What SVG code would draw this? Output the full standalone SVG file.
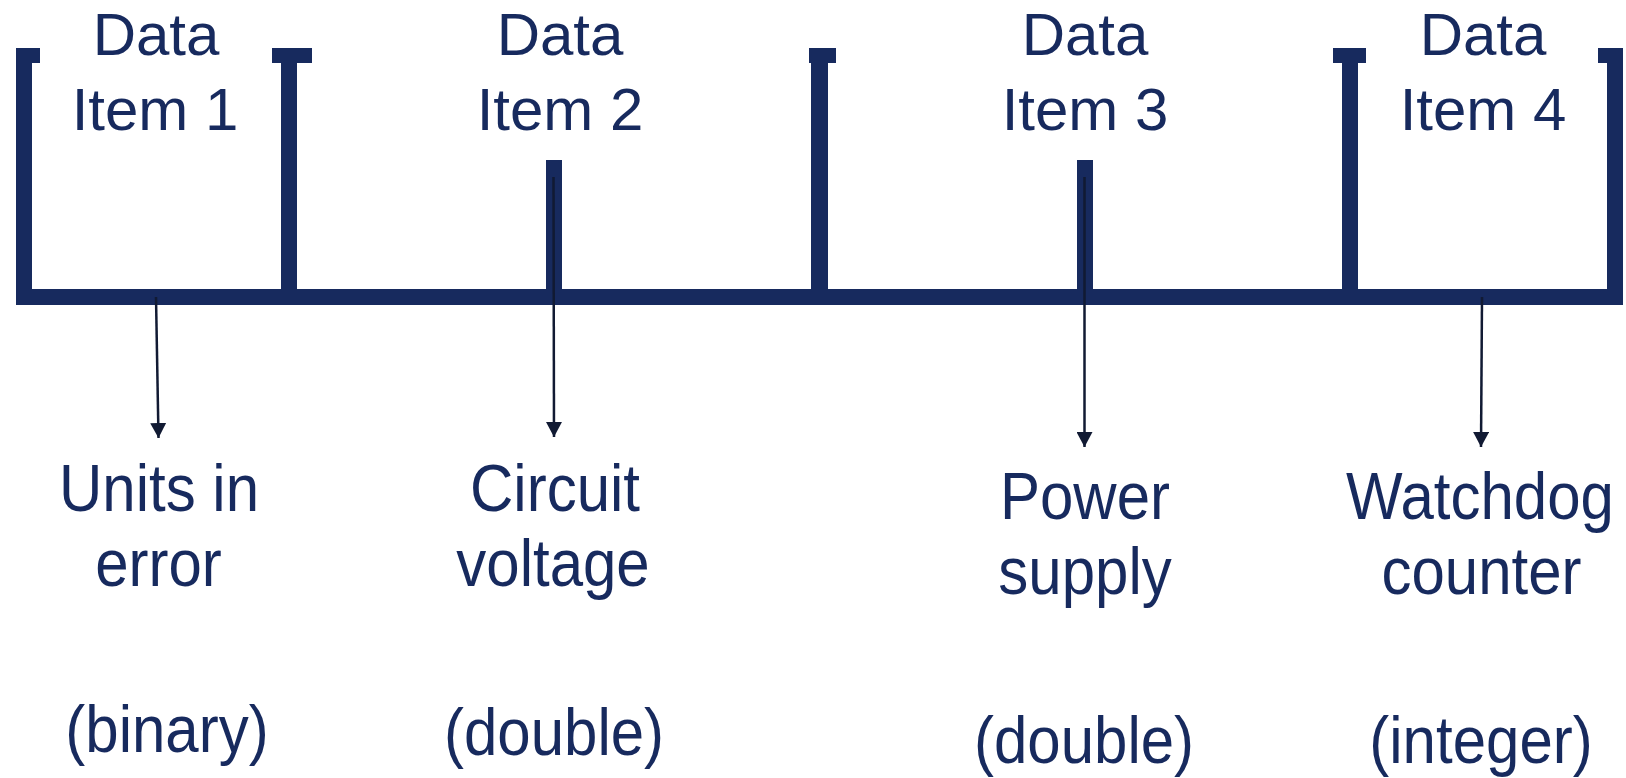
<svg xmlns="http://www.w3.org/2000/svg" width="1626" height="778" viewBox="0 0 1626 778">
<style>
.bar{fill:#172a5e}
.t{font-family:"Liberation Sans",Arial,sans-serif;font-size:60px;fill:#172a5e;text-anchor:middle}
.arr{stroke:#111a33;stroke-width:2.5;fill:none;marker-end:url(#ah)}
</style>
<defs>
<marker id="ah" markerUnits="userSpaceOnUse" markerWidth="16" markerHeight="16" refX="15" refY="8" orient="auto" viewBox="0 0 16 16">
<path d="M0,0 L15,8 L0,16 z" fill="#111a33"/>
</marker>
</defs>
<rect width="1626" height="778" fill="#ffffff"/>
<g id="frame">
<rect class="bar" x="16" y="289" width="1607" height="16"/>
<rect class="bar" x="16" y="48" width="16" height="257"/>
<rect class="bar" x="16" y="48" width="24" height="15"/>
<rect class="bar" x="281" y="48" width="16" height="257"/>
<rect class="bar" x="272" y="48" width="40" height="15"/>
<rect class="bar" x="811" y="48" width="17" height="257"/>
<rect class="bar" x="809" y="48" width="27" height="15"/>
<rect class="bar" x="1342" y="48" width="16" height="257"/>
<rect class="bar" x="1333" y="48" width="33" height="15"/>
<rect class="bar" x="1607" y="48" width="16" height="257"/>
<rect class="bar" x="1598" y="48" width="25" height="15"/>
<rect class="bar" x="546" y="160" width="16" height="145"/>
<rect class="bar" x="1077" y="160" width="16" height="145"/>
</g>
<g id="item1">
<text class="t" x="156" y="55">Data</text>
<text class="t" x="155" y="130">Item 1</text>
</g>
<g id="item2">
<text class="t" x="560" y="55">Data</text>
<text class="t" x="560" y="130">Item 2</text>
</g>
<g id="item3">
<text class="t" x="1085" y="55">Data</text>
<text class="t" x="1085" y="130">Item 3</text>
</g>
<g id="item4">
<text class="t" x="1483" y="55">Data</text>
<text class="t" x="1483" y="130">Item 4</text>
</g>
<g id="connectors">
<line class="arr" x1="156" y1="297" x2="158.5" y2="438"/>
<line class="arr" x1="553.5" y1="177" x2="554" y2="437"/>
<line class="arr" x1="1084.5" y1="177" x2="1084.5" y2="447"/>
<line class="arr" x1="1482" y1="297" x2="1481" y2="447"/>
</g>
<g id="label1">
<text class="t" transform="translate(159,511) scale(1,1.1)">Units in</text>
<text class="t" transform="translate(158.5,586) scale(1,1.1)">error</text>
<text class="t" transform="translate(167,752) scale(1,1.1)">(binary)</text>
</g>
<g id="label2">
<text class="t" transform="translate(555,511) scale(1,1.1)">Circuit</text>
<text class="t" transform="translate(553,586) scale(1,1.1)">voltage</text>
<text class="t" transform="translate(554,755) scale(1,1.1)">(double)</text>
</g>
<g id="label3">
<text class="t" transform="translate(1085,519) scale(1,1.1)">Power</text>
<text class="t" transform="translate(1085,594) scale(1,1.1)">supply</text>
<text class="t" transform="translate(1084,763) scale(1,1.1)">(double)</text>
</g>
<g id="label4">
<text class="t" transform="translate(1480,519) scale(1,1.1)">Watchdog</text>
<text class="t" transform="translate(1481.5,594) scale(1,1.1)">counter</text>
<text class="t" transform="translate(1481,763) scale(1,1.1)">(integer)</text>
</g>
</svg>
